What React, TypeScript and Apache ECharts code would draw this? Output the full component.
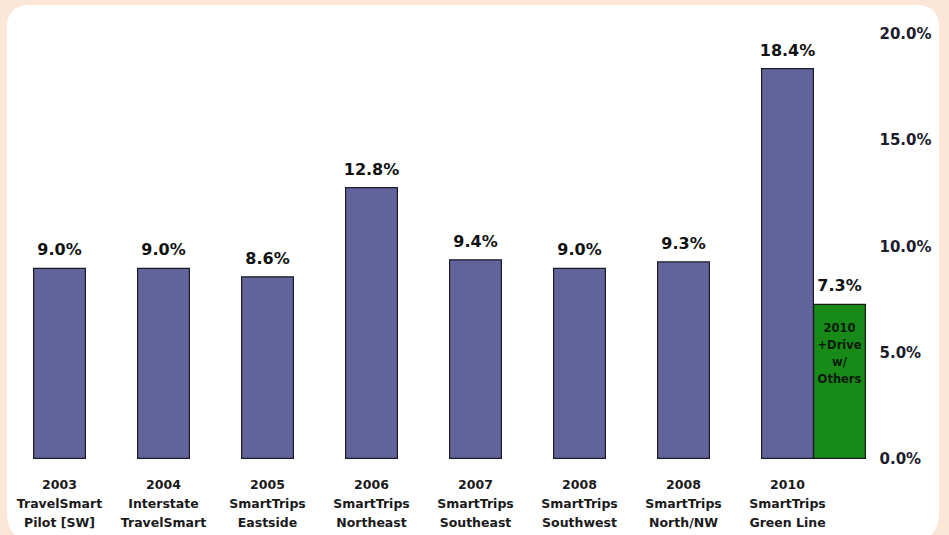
import React, { useEffect, useRef } from "react";
import * as echarts from "echarts";

const categories = [
  "2003\nTravelSmart\nPilot [SW]",
  "2004\nInterstate\nTravelSmart",
  "2005\nSmartTrips\nEastside",
  "2006\nSmartTrips\nNortheast",
  "2007\nSmartTrips\nSoutheast",
  "2008\nSmartTrips\nSouthwest",
  "2008\nSmartTrips\nNorth/NW",
  "2010\nSmartTrips\nGreen Line",
];
const mainValues = [9.0, 9.0, 8.6, 12.8, 9.4, 9.0, 9.3, 18.4];
const extraValues: (number | string)[] = ["-", "-", "-", "-", "-", "-", "-", 7.3];
const extraLabel = "2010\n+Drive\nw/\nOthers";
const yTicks = [0, 5, 10, 15, 20];

const FONT = "DejaVu Sans";

export default function App() {
  const ref = useRef<HTMLDivElement>(null);
  useEffect(() => {
    if (!ref.current) return;
    const chart = echarts.init(ref.current, undefined, { renderer: "svg" });
    const option: any = {
      animation: false,
      backgroundColor: "#fce6d7",
      graphic: [
        {
          type: "rect",
          z: -10,
          silent: true,
          shape: { x: 7, y: 5, width: 932, height: 540, r: [20, 20, 30, 30] },
          style: { fill: "#ffffff" },
        },
      ],
      grid: [
        { left: 7.5, right: 109.5, top: 34, bottom: 76 },
        { left: 59.5, right: 57.5, top: 34, bottom: 76 },
      ],
      xAxis: [
        {
          type: "category",
          gridIndex: 0,
          data: categories,
          axisLine: { show: false },
          axisTick: { show: false },
          axisLabel: {
            interval: 0,
            margin: 16,
            fontFamily: FONT,
            fontWeight: "bold",
            fontSize: 12.5,
            lineHeight: 19,
            color: "#1a1a1a",
          },
        },
        {
          type: "category",
          gridIndex: 1,
          data: categories,
          show: false,
        },
      ],
      yAxis: [
        {
          type: "value",
          gridIndex: 0,
          position: "right",
          min: yTicks[0],
          max: yTicks[yTicks.length - 1],
          interval: 5,
          splitLine: { show: false },
          axisLine: { show: false },
          axisTick: { show: false },
          axisLabel: {
            margin: 40,
            align: "left",
            fontFamily: FONT,
            fontWeight: "bold",
            fontSize: 15,
            color: "#1c1c2c",
            formatter: (v: number) => v.toFixed(1) + "%",
          },
        },
        {
          type: "value",
          gridIndex: 1,
          min: yTicks[0],
          max: yTicks[yTicks.length - 1],
          show: false,
        },
      ],
      series: [
        {
          type: "bar",
          xAxisIndex: 0,
          yAxisIndex: 0,
          data: mainValues,
          barWidth: 53,
          itemStyle: { color: "#63639b", borderColor: "#1a1a28", borderWidth: 1.2 },
          label: {
            show: true,
            position: "top",
            distance: 10,
            fontFamily: FONT,
            fontWeight: "bold",
            fontSize: 16,
            color: "#111111",
            formatter: (p: any) => Number(p.value).toFixed(1) + "%",
          },
        },
        {
          type: "bar",
          xAxisIndex: 1,
          yAxisIndex: 1,
          data: extraValues,
          barWidth: 53,
          barGap: "-100%",
          itemStyle: { color: "#178a17", borderColor: "#1a1a1a", borderWidth: 1.2 },
          label: {
            show: true,
            position: "top",
            distance: 10,
            fontFamily: FONT,
            fontWeight: "bold",
            fontSize: 16,
            color: "#111111",
            formatter: (p: any) => Number(p.value).toFixed(1) + "%",
          },
        },
        {
          type: "bar",
          xAxisIndex: 1,
          yAxisIndex: 1,
          data: extraValues,
          barWidth: 53,
          barGap: "-100%",
          itemStyle: { color: "rgba(0,0,0,0)" },
          label: {
            show: true,
            position: "insideTop",
            distance: 16,
            fontFamily: FONT,
            fontWeight: "bold",
            fontSize: 11.5,
            lineHeight: 17,
            color: "#0d1a0d",
            formatter: () => extraLabel,
          },
        },
      ],
    };
    chart.setOption(option);
    return () => chart.dispose();
  }, []);
  return (
    <div
      ref={ref}
      style={{ position: "absolute", left: 0, top: 0, width: 949, height: 535 }}
    />
  );
}
